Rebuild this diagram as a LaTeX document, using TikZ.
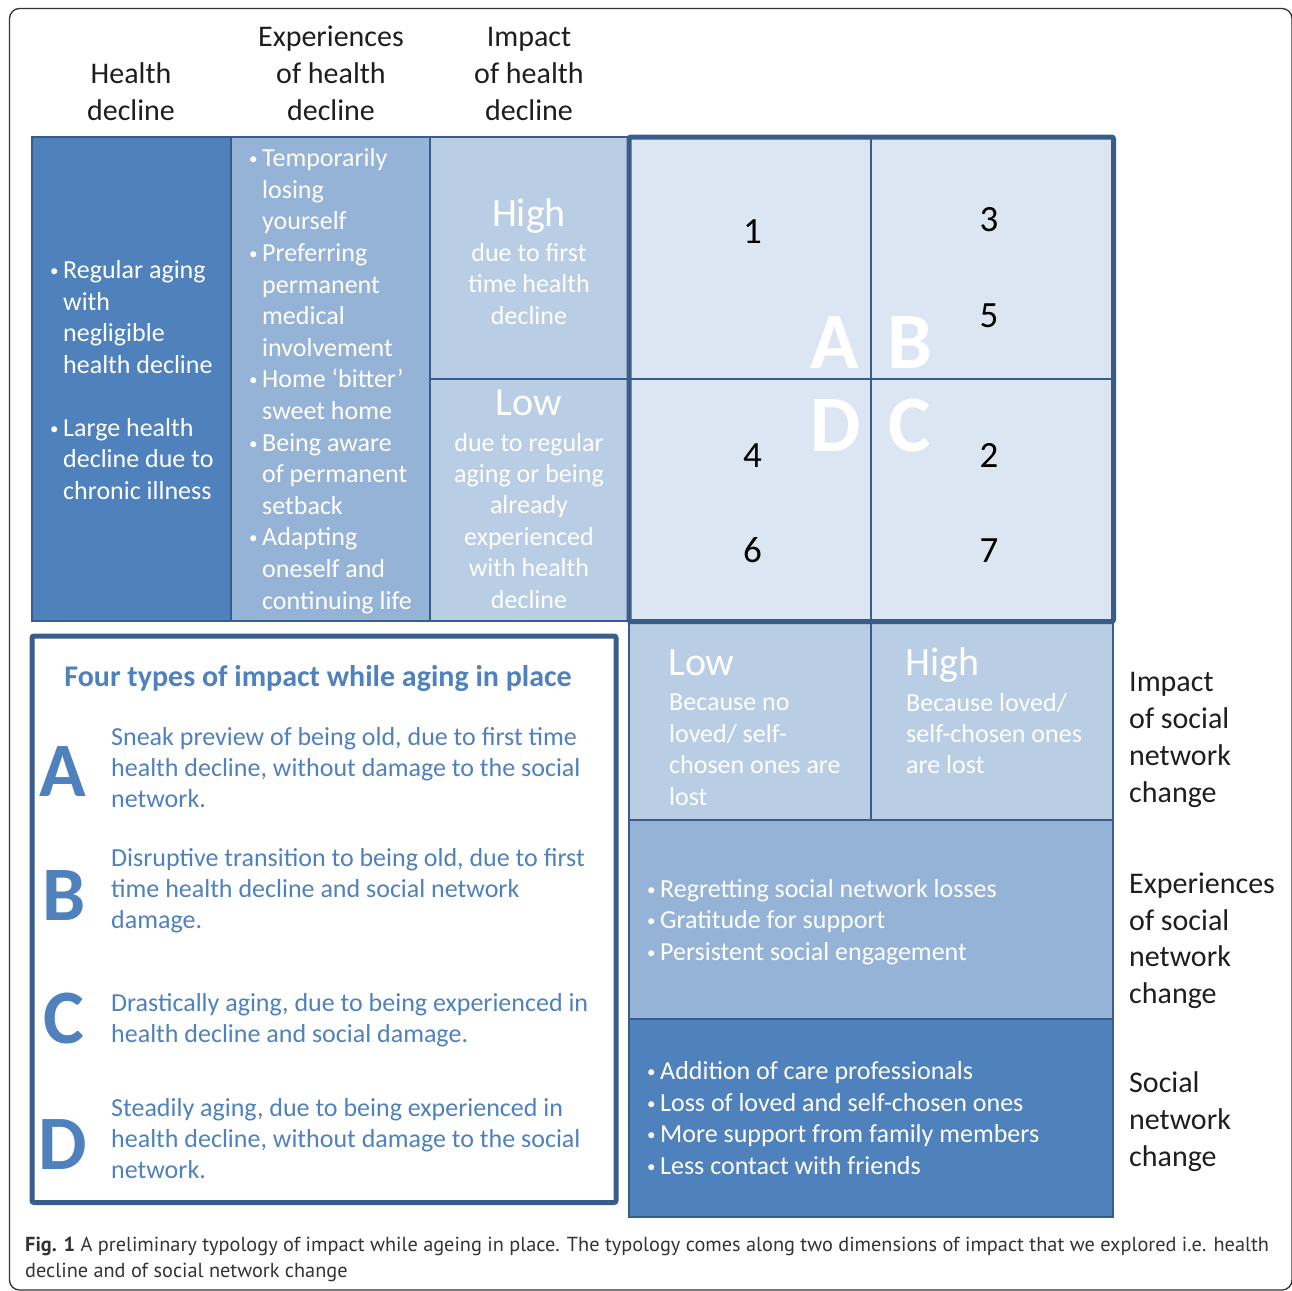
\documentclass[tikz,border=0pt]{standalone}
\usepackage{fontspec}
\setmainfont{Carlito}
\newfontfamily\capfont{PT Sans}
\definecolor{darkcell}{HTML}{4F81BD}
\definecolor{midcell}{HTML}{95B3D7}
\definecolor{lightcell}{HTML}{B9CDE5}
\definecolor{palecell}{HTML}{DCE6F2}
\definecolor{cellline}{HTML}{385D8A}
\definecolor{typeblue}{HTML}{4F81BD}
\definecolor{headtext}{HTML}{1E1E1E}

% small bullet with a hanging indent
\newcommand{\bul}{\makebox[13bp][l]{\raisebox{2bp}{\fontsize{17bp}{17bp}\selectfont\textbullet}}}
\newcommand{\ind}{\hspace*{13bp}}

\tikzset{
  cell/.style={draw=cellline, line width=1.5bp},
  thickbox/.style={draw=cellline, line width=5bp, rounded corners=2bp},
  head/.style={align=center, anchor=base, inner sep=0, text=headtext,
    font=\fontsize{30bp}{37bp}\selectfont},
  sidehead/.style={head, align=left, anchor=base west,
    font=\fontsize{30bp}{36.7bp}\selectfont},
  body/.style={align=left, anchor=base west, inner sep=0, text=white,
    font=\fontsize{26bp}{31.5bp}\selectfont},
  cbody/.style={body, align=center, anchor=base},
  level/.style={inner sep=0, text=white, font=\fontsize{40bp}{40bp}\selectfont},
  num/.style={anchor=base, inner sep=0, text=black,
    font=\fontsize{37bp}{37bp}\selectfont},
  quad/.style={inner sep=0, text=white, font=\fontsize{80bp}{80bp}\selectfont\bfseries},
  typeletter/.style={anchor=base, inner sep=0, text=typeblue,
    font=\fontsize{77bp}{77bp}\selectfont\bfseries},
  typetext/.style={body, text=typeblue, font=\fontsize{26bp}{31bp}\selectfont},
}

\begin{document}
\begin{tikzpicture}[x=1bp, y=-1bp]
\useasboundingbox (0,0) rectangle (1292,1291);
% outer frame
\draw[black!80, line width=1.3bp, rounded corners=10bp] (9.5,8.5) rectangle (1292,1290);

% column headers (nodes sit on their last baseline)
\node[head] (hd-health) at (131,120.5) {Health\\decline};
\node[head] (hd-exp) at (331,120.5) {Experiences\\of health\\decline};
\node[head] (hd-impact) at (529,120.5) {Impact\\of health\\decline};

% health decline columns
\draw[cell, fill=darkcell] (32,137) rectangle (231,621);
\draw[cell, fill=midcell] (231,137) rectangle (430,621);
\draw[cell, fill=lightcell] (430,137) rectangle (629,379);
\draw[cell, fill=lightcell] (430,379) rectangle (629,621);

\node[body] (declineitems) at (50,499) {\bul Regular aging\\ \ind with\\ \ind negligible\\
  \ind health decline\\[31.5bp] \bul Large health\\ \ind decline due to\\ \ind chronic illness};
\node[body, font=\fontsize{26bp}{31.6bp}\selectfont] (expitems) at (249,609) {\bul Temporarily\\ \ind losing\\ \ind yourself\\
  \bul Preferring\\ \ind permanent\\ \ind medical\\ \ind involvement\\
  \bul Home ‘bitter’\\ \ind sweet home\\
  \bul Being aware\\ \ind of permanent\\ \ind setback\\
  \bul Adapting\\ \ind oneself and\\ \ind continuing life};

\node[level, anchor=base] (highhealth) at (529,226.5) {High};
\node[cbody, font=\fontsize{26bp}{31.7bp}\selectfont] (highhealthtxt) at (529,324.5) {due to first\\time health\\decline};
\node[level, anchor=base] (lowhealth) at (529,415.5) {Low};
\node[cbody, font=\fontsize{26bp}{31.4bp}\selectfont] (lowhealthtxt) at (529,608) {due to regular\\aging or being\\already\\experienced\\with health\\decline};

% social network rows
\draw[cell, fill=lightcell] (629,621) rectangle (871,820);
\draw[cell, fill=lightcell] (871,621) rectangle (1113,820);
\draw[cell, fill=midcell] (629,820) rectangle (1113,1019);
\draw[cell, fill=darkcell] (629,1019) rectangle (1113,1217);

\node[level, anchor=base west] (lowsocial) at (668,675.5) {Low};
\node[body, font=\fontsize{26bp}{31.4bp}\selectfont] (lowsocialtxt) at (669,805) {Because no\\loved/ self-\\chosen ones are\\lost};
\node[level, anchor=base west] (highsocial) at (905,675.5) {High};
\node[body, font=\fontsize{26bp}{31.4bp}\selectfont] (highsocialtxt) at (906,773.8) {Because loved/\\self-chosen ones\\are lost};

\node[body] (socialexp) at (647,960) {\bul Regretting social network losses\\
  \bul Gratitude for support\\ \bul Persistent social engagement};
\node[body, font=\fontsize{26bp}{31.6bp}\selectfont] (socialchange) at (647,1174.4) {\bul Addition of care professionals\\
  \bul Loss of loved and self-chosen ones\\ \bul More support from family members\\
  \bul Less contact with friends};

\node[sidehead] (hd-socimpact) at (1129,802) {Impact\\of social\\network\\change};
\node[sidehead] (hd-socexp) at (1129,1003.5) {Experiences\\of social\\network\\change};
\node[sidehead] (hd-socchange) at (1129,1166) {Social\\network\\change};

% impact matrix
\draw[fill=palecell, draw=none] (629,137) rectangle (1113.5,621.5);
\draw[cell] (871,137) -- (871,621.5);
\draw[cell] (629,379) -- (1113.5,379);
\draw[thickbox] (629,137) rectangle (1113.5,621.5);

\node[num] (n1) at (752.5,243) {1};
\node[num] (n3) at (989,231) {3};
\node[num] (n5) at (989,327) {5};
\node[num] (n4) at (752.5,467) {4};
\node[num] (n2) at (989,467) {2};
\node[num] (n6) at (752.5,562) {6};
\node[num] (n7) at (989,562) {7};

\node[quad, anchor=base east] (qa) at (859,368) {A};
\node[quad, anchor=base west] (qb) at (887,368) {B};
\node[quad, anchor=base east] (qd) at (861,451) {D};
\node[quad, anchor=base west] (qc) at (888,451) {C};

% four types legend
\draw[thickbox, fill=white] (32,636) rectangle (616,1202.5);
\node[anchor=base, inner sep=0, text=typeblue, font=\fontsize{30bp}{30bp}\selectfont\bfseries]
  (legendtitle) at (318,686.5) {Four types of impact while aging in place};

\node[typeletter] (la) at (63,796) {A};
\node[typetext] (ta) at (111,807.8) {Sneak preview of being old, due to first time\\
  health decline, without damage to the social\\network.};
\node[typeletter] (lb) at (64,920.5) {B};
\node[typetext] (tb) at (111,928.4) {Disruptive transition to being old, due to first\\
  time health decline and social network\\damage.};
\node[typeletter] (lc) at (64,1043) {C};
\node[typetext] (tc) at (111,1042.3) {Drastically aging, due to being experienced in\\
  health decline and social damage.};
\node[typeletter] (ld) at (63,1169) {D};
\node[typetext] (td) at (111,1178.3) {Steadily aging, due to being experienced in\\
  health decline, without damage to the social\\network.};

% caption
\node[anchor=base west, inner sep=0, align=left, text=black!80,
  font=\capfont\fontsize{20.3bp}{26bp}\selectfont] (caption) at (25,1277.5)
  {\textbf{Fig. 1} A preliminary typology of impact while ageing in place. The typology comes along two dimensions of impact that we explored i.e. health\\
  decline and of social network change};
\end{tikzpicture}
\end{document}
